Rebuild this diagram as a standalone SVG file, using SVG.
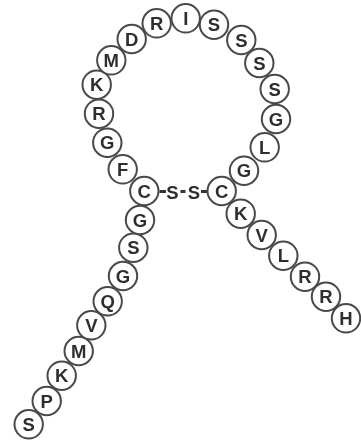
<svg xmlns="http://www.w3.org/2000/svg" width="361" height="445" viewBox="0 0 361 445">
<defs><filter id="soft" x="0" y="0" width="1" height="1" filterUnits="objectBoundingBox"><feGaussianBlur stdDeviation="0.4"/></filter></defs>
<style>
.r circle{fill:#fff;stroke:#4a4a4a;stroke-width:2}
text{font-family:"Liberation Sans",Arial,sans-serif;font-size:18.500px;font-weight:bold;fill:#2e2e2e;text-anchor:middle}
.b{stroke:#333;stroke-width:3;fill:none}
</style>
<rect width="361" height="445" fill="#fff"/>
<g filter="url(#soft)">
<rect width="361" height="445" fill="#fff"/>
<g id="connectors">
<path class="b" d="M159.500 191.500H166M180.500 191.500H185.500M201 191.500H207"/>
</g>
<g class="r">
<g id="n1"><circle cx="28.700" cy="424.300" r="14.200"/><text x="28.700" y="430.900">S</text></g>
<g id="n2"><circle cx="46.700" cy="401" r="14.200"/><text x="46.700" y="407.600">P</text></g>
<g id="n3"><circle cx="61.700" cy="375.700" r="14.200"/><text x="61.700" y="382.300">K</text></g>
<g id="n4"><circle cx="78.700" cy="351" r="14.200"/><text x="78.700" y="357.600">M</text></g>
<g id="n5"><circle cx="91.300" cy="325.300" r="14.200"/><text x="91.300" y="331.900">V</text></g>
<g id="n6"><circle cx="107.700" cy="301.300" r="14.200"/><text x="107.700" y="307.900">Q</text></g>
<g id="n7"><circle cx="123" cy="276" r="14.200"/><text x="123" y="282.600">G</text></g>
<g id="n8"><circle cx="133.300" cy="247.700" r="14.200"/><text x="133.300" y="254.300">S</text></g>
<g id="n9"><circle cx="140" cy="220" r="14.200"/><text x="140" y="226.600">G</text></g>
<g id="n10"><circle cx="122.700" cy="169.300" r="14.200"/><text x="122.700" y="175.900">F</text></g>
<g id="n11"><circle cx="144.300" cy="191" r="14.200"/><text x="144.300" y="197.600">C</text></g>
<g id="n12"><circle cx="107.300" cy="142.700" r="14.200"/><text x="107.300" y="149.300">G</text></g>
<g id="n13"><circle cx="99" cy="113.700" r="14.200"/><text x="99" y="120.300">R</text></g>
<g id="n14"><circle cx="96.700" cy="84.700" r="14.200"/><text x="96.700" y="91.300">K</text></g>
<g id="n15"><circle cx="111.300" cy="60.300" r="14.200"/><text x="111.300" y="66.900">M</text></g>
<g id="n16"><circle cx="131.700" cy="39" r="14.200"/><text x="131.700" y="45.600">D</text></g>
<g id="n17"><circle cx="156.700" cy="23.300" r="14.200"/><text x="156.700" y="29.900">R</text></g>
<g id="n18"><circle cx="185.700" cy="18.300" r="14.200"/><text x="185.700" y="24.900">I</text></g>
<g id="n19"><circle cx="214" cy="24.700" r="14.200"/><text x="214" y="31.300">S</text></g>
<g id="n20"><circle cx="241.300" cy="40" r="14.200"/><text x="241.300" y="46.600">S</text></g>
<g id="n21"><circle cx="259.300" cy="63" r="14.200"/><text x="259.300" y="69.600">S</text></g>
<g id="n22"><circle cx="274.700" cy="89" r="14.200"/><text x="274.700" y="95.600">S</text></g>
<g id="n23"><circle cx="276" cy="119" r="14.200"/><text x="276" y="125.600">G</text></g>
<g id="n24"><circle cx="264.700" cy="147.300" r="14.200"/><text x="264.700" y="153.900">L</text></g>
<g id="n25"><circle cx="244" cy="170.700" r="14.200"/><text x="244" y="177.300">G</text></g>
<g id="n32"><circle cx="346" cy="318.300" r="14.200"/><text x="346" y="324.900">H</text></g>
<g id="n31"><circle cx="326" cy="296.700" r="14.200"/><text x="326" y="303.300">R</text></g>
<g id="n30"><circle cx="305" cy="276.700" r="14.200"/><text x="305" y="283.300">R</text></g>
<g id="n29"><circle cx="283.300" cy="255.700" r="14.200"/><text x="283.300" y="261.900">L</text></g>
<g id="n28"><circle cx="261.700" cy="235" r="14.200"/><text x="261.700" y="241.600">V</text></g>
<g id="n27"><circle cx="240.700" cy="213.700" r="14.200"/><text x="240.700" y="220.300">K</text></g>
<g id="n26"><circle cx="221.700" cy="191" r="14.200"/><text x="221.700" y="197.600">C</text></g>
</g>
<g id="ss1"><text x="172.300" y="198.600">S</text></g>
<g id="ss2"><text x="194" y="198.600">S</text></g>
</g>
</svg>
